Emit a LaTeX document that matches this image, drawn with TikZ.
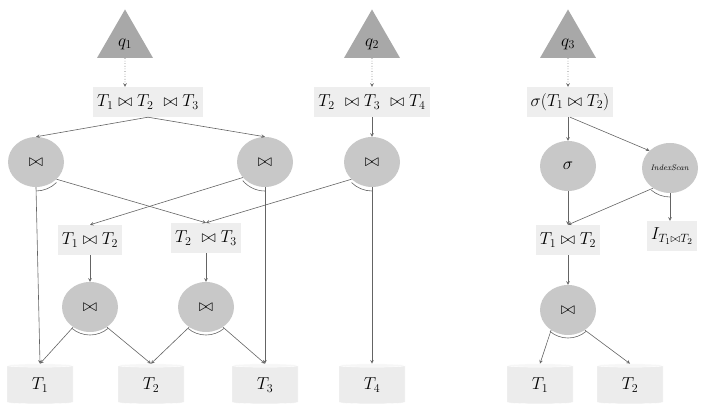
\documentclass[tikz,border=0pt]{standalone}
\usepackage{amssymb}
\usetikzlibrary{arrows}
\usetikzlibrary{shapes.geometric}
\definecolor{edgegray}{RGB}{100,100,100}
\tikzset{
  query/.style={isosceles triangle, shape border rotate=90, isosceles triangle apex angle=60, fill={rgb,255:red,168;green,168;blue,168}, minimum width=56pt, inner sep=0pt, font=\fontsize{17}{20}\selectfont},
  plan/.style={rectangle, fill={rgb,255:red,238;green,238;blue,238}, inner sep=4pt, minimum height=30pt, font=\fontsize{18}{22}\selectfont},
  op/.style={ellipse, fill={rgb,255:red,200;green,200;blue,200}, minimum width=56pt, minimum height=50pt, inner sep=0pt, font=\fontsize{18}{22}\selectfont},
  tbl/.style={cylinder, shape border rotate=90, aspect=0.18, cylinder uses custom fill, cylinder body fill={rgb,255:red,236;green,236;blue,236}, cylinder end fill={rgb,255:red,246;green,246;blue,246}, draw=white, minimum width=66pt, minimum height=40pt, inner sep=1pt, font=\fontsize{18}{22}\selectfont},
  edge/.style={draw=edgegray, -stealth, line width=0.6pt},
  anglemark/.style={draw=edgegray, line width=0.6pt}
}
\begin{document}
\begin{tikzpicture}[x=1pt,y=1pt]
\useasboundingbox (0,0) rectangle (708,414);

% Queries
\node[query] (q1) at (125,370) {$q_1$};
\node[query] (q2) at (372,370) {$q_2$};
\node[query] (q3) at (568,370) {$q_3$};

% Plan Nodes
\node[plan] (p123) at (148,312) {$T_1 \bowtie T_2\ \bowtie T_3$};
\node[plan] (p234) at (372,312) {$T_2\ \bowtie T_3\ \bowtie T_4$};
\node[plan] (ps12) at (570,312) {$\sigma(T_1 \bowtie T_2)$};
\node[plan] (p12) at (90,174) {$T_1 \bowtie T_2$};
\node[plan] (p23) at (206,176) {$T_2\ \bowtie T_3$};
\node[plan] (r12) at (568,174) {$T_1 \bowtie T_2$};
\node[plan] (idx) at (672,178) {$I_{T_1\bowtie T_2}$};

% Operators
\node[op] (j1) at (36,252) {$\bowtie$};
\node[op] (j2) at (265,252) {$\bowtie$};
\node[op] (j3) at (372,252) {$\bowtie$};
\node[op] (j4) at (90,107) {$\bowtie$};
\node[op] (j5) at (206,107) {$\bowtie$};
\node[op] (sel) at (568,248) {$\sigma$};
\node[op] (scan) at (670,246) {\fontsize{8}{10}\selectfont$\mathit{IndexScan}$};
\node[op] (j6) at (568,104) {$\bowtie$};

% Tables
\node[tbl] (t1) at (40,29) {$T_1$};
\node[tbl] (t2) at (151,29) {$T_2$};
\node[tbl] (t3) at (265,29) {$T_3$};
\node[tbl] (t4) at (372,29) {$T_4$};
\node[tbl] (u1) at (540,29) {$T_1$};
\node[tbl] (u2) at (630,29) {$T_2$};

% Edges
\draw[edge, dotted] (q1) -- (q1 |- p123.north);
\draw[edge, dotted] (q2) -- (p234);
\draw[edge, dotted] (q3) -- (q3 |- ps12.north);
\draw[edge] (p123.south) -- (j1.north);
\draw[edge] (p123.south) -- (j2.north);
\draw[edge] (p234) -- (j3);
\draw[edge] (j1.south) -- (t1.top);
\draw[edge] (j1.-40) -- (p23.north);
\draw[edge] (j2.-145) -- (p12.north);
\draw[edge] (j2.south) -- (t3.top);
\draw[edge] (j3.-140) -- (p23.north);
\draw[edge] (j3.south) -- (t4.top);
\draw[edge] (p12) -- (j4);
\draw[edge] (p23) -- (j5);
\draw[edge] (j4.-130) -- (t1.top);
\draw[edge] (j4.-50) -- (t2.top);
\draw[edge] (j5.-130) -- (t2.top);
\draw[edge] (j5.-50) -- (t3.top);
\draw[edge] (ps12.south -| sel) -- (sel);
\draw[edge] (ps12.south) -- (scan.140);
\draw[edge] (sel) -- (r12);
\draw[edge] (scan.-130) -- (r12.north);
\draw[edge] (scan.south) -- (scan.south |- idx.north);
\draw[edge] (r12) -- (j6);
\draw[edge] (j6.-130) -- (u1.top);
\draw[edge] (j6.-50) -- (u2.top);

% Angle Marks
\draw[anglemark] (j1.center) ++(-90:29) arc[start angle=-90, end angle=-45, radius=29];
\draw[anglemark] (j2.center) ++(-90:29) arc[start angle=-90, end angle=-140, radius=29];
\draw[anglemark] (j3.center) ++(-90:29) arc[start angle=-90, end angle=-135, radius=29];
\draw[anglemark] (j4.center) ++(-130:28) arc[start angle=-130, end angle=-50, radius=28];
\draw[anglemark] (j5.center) ++(-130:28) arc[start angle=-130, end angle=-50, radius=28];
\draw[anglemark] (j6.center) ++(-130:28) arc[start angle=-130, end angle=-50, radius=28];
\draw[anglemark] (scan.center) ++(-90:29) arc[start angle=-90, end angle=-130, radius=29];
\end{tikzpicture}
\end{document}
